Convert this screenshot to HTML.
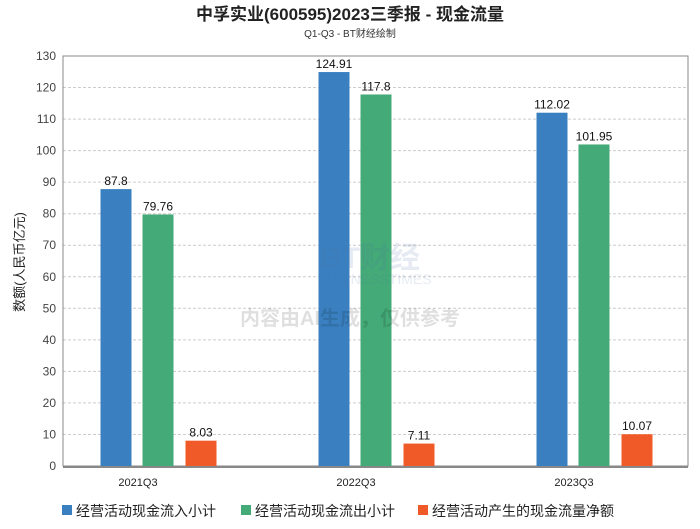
<!DOCTYPE html>
<html><head><meta charset="utf-8"><style>
body{margin:0;background:#fff;width:700px;height:524px;overflow:hidden;font-family:"Liberation Sans","Noto Sans CJK SC",sans-serif}
svg text{font-family:"Liberation Sans","Noto Sans CJK SC",sans-serif}
</style></head><body>
<svg id="c" width="700" height="524">
<text x="350" y="20" text-anchor="middle" font-size="17" font-weight="bold" fill="#222">中孚实业(600595)2023三季报 - 现金流量</text>
<text x="350" y="37" text-anchor="middle" font-size="10" fill="#333">Q1-Q3 - BT财经绘制</text>
<text transform="translate(24,262) rotate(-90)" text-anchor="middle" font-size="13" fill="#222">数额(人民币亿元)</text>
<g id="grid"></g><g id="bars"></g>
<g opacity="0.13">
<text x="320" y="268" font-size="30" font-weight="bold" fill="#4a6fa5">BT财经</text>
<text x="318" y="284" font-size="14" fill="#4a6fa5">BUSINESSTIMES</text>
</g>
<text x="350" y="325" text-anchor="middle" font-size="20" font-weight="bold" fill="#000" opacity="0.12">内容由AI生成，仅供参考</text>
<g font-size="14" fill="#222">
<rect x="62" y="505" width="10" height="10" fill="#3a80c0"/>
<text x="76" y="516">经营活动现金流入小计</text>
<rect x="241" y="505" width="10" height="10" fill="#44aa77"/>
<text x="255" y="516">经营活动现金流出小计</text>
<rect x="418" y="505" width="10" height="10" fill="#f05a28"/>
<text x="432" y="516">经营活动产生的现金流量净额</text>
</g>
</svg>
<script>
const categories=["2021Q3","2022Q3","2023Q3"];
const inflow=[87.8,124.91,112.02];
const outflow=[79.76,117.8,101.95];
const netflow=[8.03,7.11,10.07];
const yTicks=[0,10,20,30,40,50,60,70,80,90,100,110,120,130];
const NS="http://www.w3.org/2000/svg";
const L=63,R=688,T=56,B=466,yMax=130;
const y=v=>B-(v/yMax)*(B-T);
const xc=i=>158+i*218;
function mk(t,a,p){const e=document.createElementNS(NS,t);for(const k in a)e.setAttribute(k,a[k]);p.appendChild(e);return e;}
const g=document.getElementById('grid'),bg=document.getElementById('bars');
yTicks.forEach(v=>{
 const l=mk('line',{x1:L,x2:R,y1:y(v),y2:y(v),stroke:'#ccc','stroke-dasharray':'3,2'},g);
 
 
 const t=mk('text',{x:L-7,y:y(v)+4,'text-anchor':'end','font-size':12,fill:'#444'},g);t.textContent=v;
 
 
});
const f=mk('rect',{x:L,y:T,width:R-L,height:B-T,fill:'none',stroke:'#888'},g);


const ax=mk('line',{x1:L,x2:R,y1:B+1,y2:B+1,stroke:'#888','stroke-width':2},g);


const series=[[inflow,'#3a80c0','inflow',-42],[outflow,'#44aa77','outflow',0],[netflow,'#f05a28','net',43]];
categories.forEach((c,i)=>{
 const t=mk('text',{x:xc(i)-20,y:486,'text-anchor':'middle','font-size':11,fill:'#222'},g);t.textContent=c;
 
 
 series.forEach(([arr,col,nm,off])=>{
  const v=arr[i],x=xc(i)+off-15.5;
  const r=mk('rect',{x:x,y:y(v),width:31,height:B-y(v),fill:col},bg);
  
  
  const lt=mk('text',{x:x+15.5,y:y(v)-4,'text-anchor':'middle','font-size':12,fill:'#111'},bg);lt.textContent=v;
  
  
 });
});
</script>
</body></html>
